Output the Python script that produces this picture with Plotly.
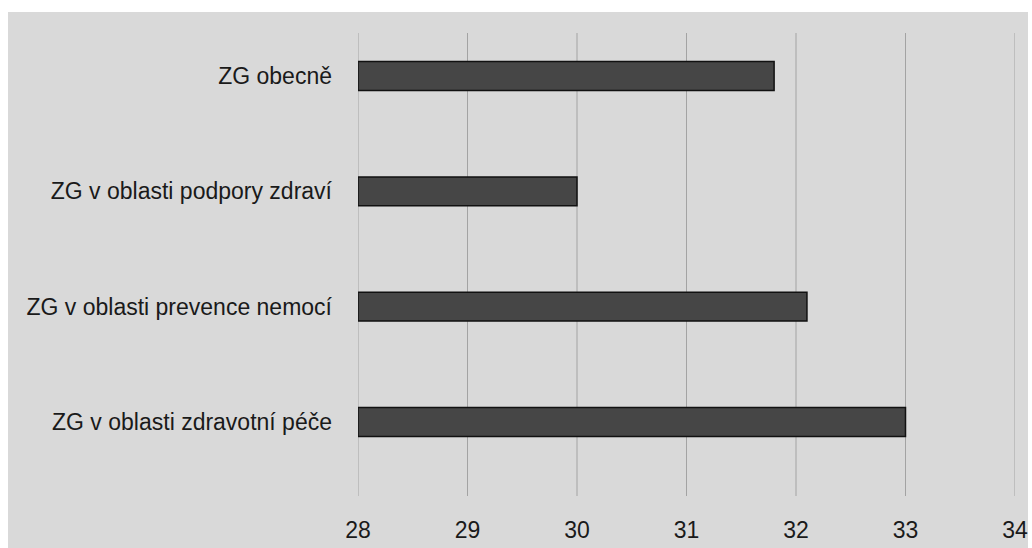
import plotly.graph_objects as go

categories = ["ZG obecně", "ZG v oblasti podpory zdraví", "ZG v oblasti prevence nemocí", "ZG v oblasti zdravotní péče"]
values = [31.8, 30.0, 32.1, 33.0]
axis_min = 28
tick_vals = [28, 29, 30, 31, 32, 33, 34]

FONT = "Liberation Sans"

fig = go.Figure()
fig.add_trace(go.Bar(
    y=categories,
    x=[v - axis_min for v in values],
    base=axis_min,
    orientation="h",
    width=0.25,
    marker=dict(color="#464646", line=dict(color="#111111", width=1.5)),
    hoverinfo="skip",
))

L, R, T, B = 358, 1015, 33, 496
W, H = 1032, 548
pw, ph = R - L, B - T

fig.add_shape(type="rect", xref="paper", yref="paper", layer="below",
              x0=(8 - L) / pw, x1=(1028 - L) / pw,
              y0=(B - 548) / ph, y1=(B - 12) / ph,
              fillcolor="#d9d9d9", line=dict(width=0))

# vertical gridlines at every tick (including the range edges)
for tv in tick_vals:
    fig.add_shape(type="line", xref="x", yref="paper", layer="below",
                  x0=tv, x1=tv, y0=0, y1=1,
                  line=dict(color="#a3a3a3", width=1))

fig.update_layout(
    width=W, height=H,
    margin=dict(l=L, r=W - R, t=T, b=H - B, pad=0),
    paper_bgcolor="white",
    plot_bgcolor="rgba(0,0,0,0)",
    showlegend=False,
    font=dict(family=FONT, size=23, color="#1a1a1a"),
    xaxis=dict(range=[tick_vals[0], tick_vals[-1]], tickvals=tick_vals, showgrid=False,
               zeroline=False, showline=False, ticks="", ticklabelstandoff=18,
               automargin=False,
               tickfont=dict(size=23, family=FONT, color="#1a1a1a")),
    yaxis=dict(categoryorder="array", categoryarray=categories,
               range=[3 + (496 - 422) / 115.33, -(76 - 33) / 115.33],
               showgrid=False, zeroline=False, showline=False, ticks="",
               ticklabelstandoff=25, automargin=False,
               tickfont=dict(size=23, family=FONT, color="#1a1a1a")),
)

fig.write_html(
    "out.html",
    config={"displayModeBar": False},
    post_script=(
        "document.documentElement.style.margin='0';"
        "document.documentElement.style.overflow='hidden';"
        "document.body.style.margin='0';"
        "document.body.style.overflow='hidden';"
    ),
)
